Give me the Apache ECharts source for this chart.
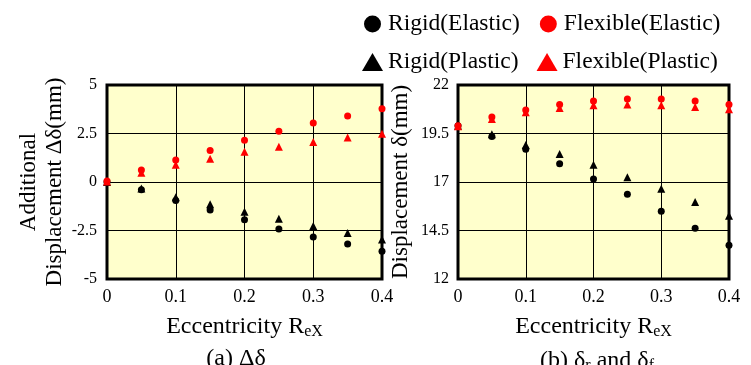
<!DOCTYPE html>
<html>
<head>
<meta charset="utf-8">
<script src="https://cdn.jsdelivr.net/npm/echarts@6/dist/echarts.min.js"></script>
<style>html,body{margin:0;padding:0;background:#fff}#c{width:751px;height:365px}</style>
</head>
<body>
<div id="c"></div>
<script>
const xValues = [0, 0.05, 0.1, 0.15, 0.2, 0.25, 0.3, 0.35, 0.4];
// (a) additional displacement Δδ (mm)
const dRigidElastic   = [0, -0.40, -0.96, -1.44, -1.94, -2.42, -2.84, -3.20, -3.57];
const dRigidPlastic   = [0, -0.33, -0.79, -1.15, -1.53, -1.89, -2.27, -2.63, -2.97];
const dFlexElastic    = [0.05, 0.62, 1.13, 1.63, 2.15, 2.61, 3.04, 3.40, 3.78];
const dFlexPlastic    = [0.03, 0.48, 0.89, 1.20, 1.56, 1.82, 2.06, 2.30, 2.49];
// (b) displacement δ (mm)
const sRigidElastic   = [19.9, 19.34, 18.69, 17.94, 17.15, 16.37, 15.49, 14.61, 13.74];
const sRigidPlastic   = [19.9, 19.46, 18.91, 18.44, 17.89, 17.24, 16.65, 15.97, 15.26];
const sFlexElastic    = [19.9, 20.35, 20.71, 21.00, 21.18, 21.28, 21.28, 21.18, 21.00];
const sFlexPlastic    = [19.88, 20.25, 20.60, 20.81, 20.95, 21.00, 20.95, 20.87, 20.75];

const names = ['Rigid(Elastic)', 'Flexible(Elastic)', 'Rigid(Plastic)', 'Flexible(Plastic)'];
const FONT = '"Liberation Serif", "Times New Roman", serif';

function pairs(ys) { return xValues.map((x, i) => [x, ys[i]]); }

const chart = echarts.init(document.getElementById('c'), null, {renderer: 'canvas'});

const xName = '{a|Eccentricity}{b| R}{s|eX}';
const xNameRich = {
  a: {fontSize: 24, fontFamily: FONT, color: '#000'},
  b: {fontSize: 24, fontFamily: FONT, color: '#000'},
  s: {fontSize: 16, fontFamily: FONT, color: '#000', padding: [11, 0, 0, 0]}
};

function xAxis(gi) {
  return {
    type: 'value', gridIndex: gi, min: 0, max: 0.4, interval: 0.1,
    axisLine: {show: false}, axisTick: {show: false},
    splitLine: {show: true, lineStyle: {color: '#000', width: 1}},
    axisLabel: {color: '#000', fontSize: 18, fontFamily: FONT, margin: 9},
    name: xName, nameLocation: 'middle', nameGap: 34,
    nameTextStyle: {rich: xNameRich}
  };
}

function mk(name, gi, ys, color, symbol) {
  return {
    name: name, type: 'scatter', xAxisIndex: gi, yAxisIndex: gi,
    data: pairs(ys), symbol: symbol, symbolSize: symbol === 'triangle' ? 8 : 7,
    itemStyle: {color: color, opacity: 1}, clip: false, z: 3
  };
}

const option = {
  animation: false,
  backgroundColor: '#fff',
  textStyle: {fontFamily: FONT},
  title: [
    {text: '(a) Δδ', left: 231, top: 342, textAlign: 'center',
     textStyle: {fontSize: 24, fontWeight: 'normal', fontFamily: FONT, color: '#000'}},
    {text: '{a|(b) δ}{s|r}{a| and δ}{s|f}', left: 592, top: 342, textAlign: 'center',
     textStyle: {fontSize: 24, fontWeight: 'normal', fontFamily: FONT, color: '#000',
       rich: {a: {fontSize: 24, fontFamily: FONT, color: '#000'},
              s: {fontSize: 16, fontFamily: FONT, color: '#000', padding: [11, 0, 0, 0]}}}}
  ],
  legend: [
    {data: [names[0], names[1]], left: 359, top: 7, itemWidth: 17, itemHeight: 17, itemGap: 20,
     textStyle: {fontSize: 23.5, fontFamily: FONT, color: '#000', padding: [0, 0, 0, 2]}},
    {data: [names[2], names[3]], left: 357, top: 45, itemWidth: 21, itemHeight: 18, itemGap: 18,
     textStyle: {fontSize: 23.5, fontFamily: FONT, color: '#000', padding: [0, 0, 0, 0]}}
  ],
  grid: [
    {left: 107, right: 369, top: 85, bottom: 86, show: true, backgroundColor: '#FFFFCC',
     borderColor: '#000', borderWidth: 3},
    {left: 458, right: 22, top: 85, bottom: 86, show: true, backgroundColor: '#FFFFCC',
     borderColor: '#000', borderWidth: 3}
  ],
  xAxis: [xAxis(0), xAxis(1)],
  yAxis: [
    {type: 'value', gridIndex: 0, min: -5, max: 5, interval: 2.5,
     axisLine: {show: false}, axisTick: {show: false},
     splitLine: {show: true, lineStyle: {color: '#000', width: 1}},
     axisLabel: {color: '#000', fontSize: 16, fontFamily: FONT, margin: 10},
     name: 'Additional\nDisplacement Δδ(mm)', nameLocation: 'middle', nameGap: 27,
     nameTextStyle: {fontSize: 23, fontFamily: FONT, color: '#000', lineHeight: 26}},
    {type: 'value', gridIndex: 1, min: 12, max: 22, interval: 2.5,
     axisLine: {show: false}, axisTick: {show: false},
     splitLine: {show: true, lineStyle: {color: '#000', width: 1}},
     axisLabel: {color: '#000', fontSize: 16, fontFamily: FONT, margin: 9},
     name: 'Displacement δ(mm)', nameLocation: 'middle', nameGap: 46,
     nameTextStyle: {fontSize: 23, fontFamily: FONT, color: '#000'}}
  ],
  series: [
    mk(names[0], 0, dRigidElastic, '#000', 'circle'),
    mk(names[2], 0, dRigidPlastic, '#000', 'triangle'),
    mk(names[1], 0, dFlexElastic, '#FF0000', 'circle'),
    mk(names[3], 0, dFlexPlastic, '#FF0000', 'triangle'),
    mk(names[0], 1, sRigidElastic, '#000', 'circle'),
    mk(names[2], 1, sRigidPlastic, '#000', 'triangle'),
    mk(names[1], 1, sFlexElastic, '#FF0000', 'circle'),
    mk(names[3], 1, sFlexPlastic, '#FF0000', 'triangle')
  ]
};
chart.setOption(option);
</script>
</body>
</html>
